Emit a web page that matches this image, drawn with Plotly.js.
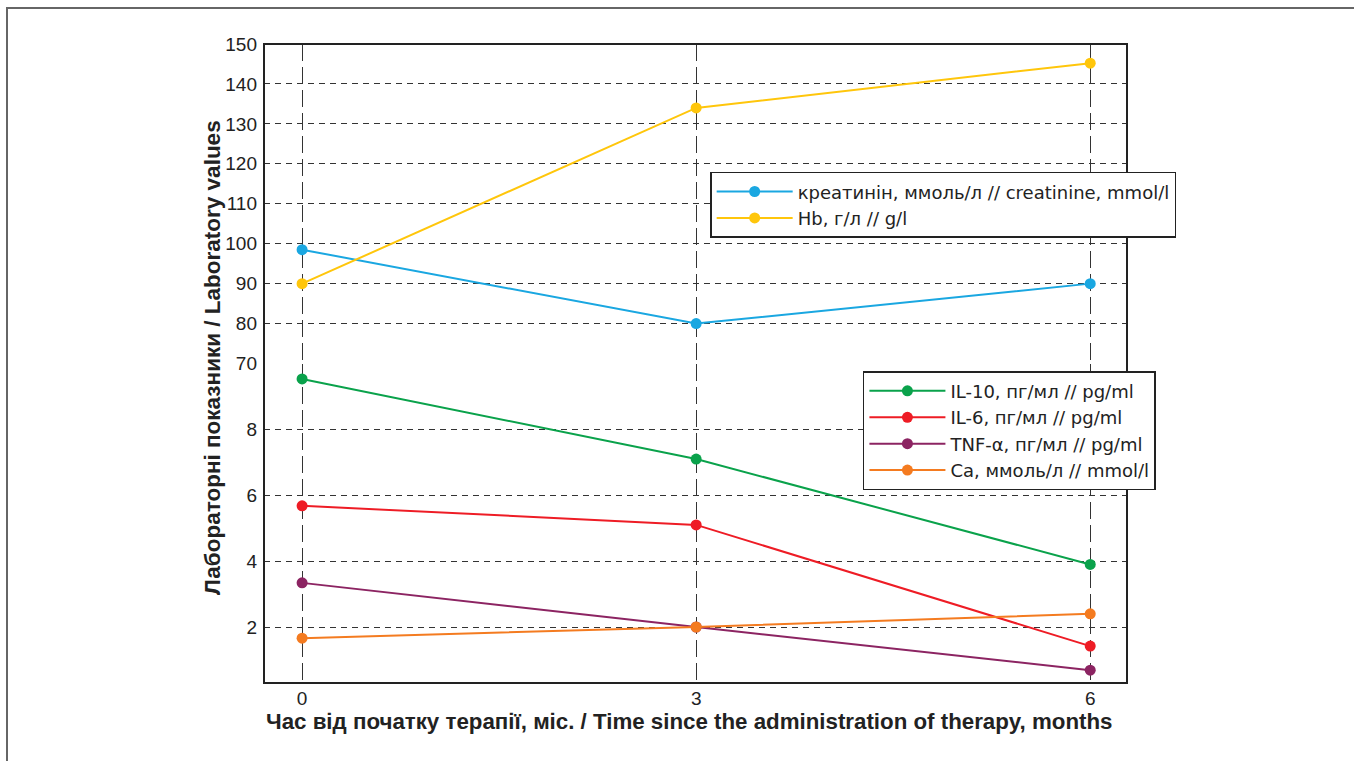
<!DOCTYPE html>
<html>
<head>
<meta charset="utf-8">
<script src="https://cdn.plot.ly/plotly-3.0.1.min.js"></script>
<style>
  html, body { margin: 0; padding: 0; background: #fff; }
  #chart { width: 1354px; height: 761px; }
  #frame { position: absolute; left: 6px; top: 7px; width: 1360px; height: 800px;
           border-left: 2px solid #666; border-top: 2px solid #666; pointer-events: none; }
</style>
</head>
<body>
<div id="chart"></div>
<div id="frame"></div>
<script>
// ---- data ----
const months = [0, 3, 6];
const xTickVals = [0, 3, 6];

const creatinine = [98.5, 80, 90];
const hb = [90, 134, 145.2];

const il10 = [9.53, 7.1, 3.9];
const il6 = [5.68, 5.1, 1.42];
const tnfAlpha = [3.34, 2.0, 0.69];
const ca = [1.66, 2.0, 2.4];

const upperTicks = [70, 80, 90, 100, 110, 120, 130, 140, 150];
const lowerTicks = [2, 4, 6, 8];

const names = {
  creatinine: 'креатинін, ммоль/л // creatinine, mmol/l',
  hb: 'Hb, г/л // g/l',
  il10: 'IL-10, пг/мл // pg/ml',
  il6: 'IL-6, пг/мл // pg/ml',
  tnf: 'TNF-α, пг/мл // pg/ml',
  ca: 'Ca, ммоль/л // mmol/l'
};
const xTitle = 'Час від початку терапії, міс. / Time since the administration of therapy, months';
const yTitle = 'Лабораторні показники / Laboratory values';

// ---- traces ----
function tr(x, y, name, color, yaxis, legend) {
  return {
    x: x, y: y, name: name, type: 'scatter', mode: 'lines+markers',
    xaxis: 'x', yaxis: yaxis, legend: legend,
    line: { color: color, width: 2 },
    marker: { color: color, size: 11 },
    cliponaxis: false
  };
}
const data = [
  tr(months, creatinine, names.creatinine, '#1aa7e1', 'y2', 'legend'),
  tr(months, hb, names.hb, '#ffc60b', 'y2', 'legend'),
  tr(months, il10, names.il10, '#0aa24b', 'y', 'legend2'),
  tr(months, il6, names.il6, '#ee1c25', 'y', 'legend2'),
  tr(months, tnfAlpha, names.tnf, '#8c2462', 'y', 'legend2'),
  tr(months, ca, names.ca, '#f47b20', 'y', 'legend2')
];

const tickFont = { family: 'Liberation Sans, Arial, sans-serif', size: 19, color: '#222' };
const legFont = { family: 'DejaVu Sans, sans-serif', size: 18, color: '#222' };
const gridCommon = { showgrid: true, gridcolor: '#333', gridwidth: 1, zeroline: false, showline: false, ticks: '' };

const layout = {
  width: 1354, height: 761,
  margin: { l: 264, r: 227, t: 44, b: 78 },
  paper_bgcolor: '#fff', plot_bgcolor: '#fff',
  showlegend: true,
  xaxis: Object.assign({}, gridCommon, {
    range: [-0.29, 6.28], tickvals: xTickVals, ticktext: xTickVals.map(String),
    tickfont: tickFont, griddash: '17px,6px', anchor: 'y', ticklabelstandoff: 2
  }),
  yaxis: Object.assign({}, gridCommon, {
    domain: [0, 0.5], range: [0.3, 10], tickvals: lowerTicks, ticktext: lowerTicks.map(String),
    tickfont: tickFont, griddash: '6px,5px', anchor: 'x', ticklabelstandoff: 6
  }),
  yaxis2: Object.assign({}, gridCommon, {
    domain: [0.5, 1], range: [70, 150], tickvals: upperTicks, ticktext: upperTicks.map(String),
    tickfont: tickFont, griddash: '6px,5px', anchor: 'x', ticklabelstandoff: 6
  }),
  legend: {
    x: 0.517, y: 0.80, xanchor: 'left', yanchor: 'top', itemwidth: 76,
    bgcolor: '#fff', bordercolor: '#222', borderwidth: 1.5, font: legFont
  },
  legend2: {
    x: 0.694, y: 0.488, xanchor: 'left', yanchor: 'top', itemwidth: 76,
    bgcolor: '#fff', bordercolor: '#222', borderwidth: 1.5, font: legFont
  },
  shapes: [
    { type: 'rect', xref: 'paper', yref: 'paper', x0: 0, x1: 1, y0: 0, y1: 1,
      line: { color: '#222', width: 2 }, layer: 'above' }
  ],
  annotations: [
    { text: '<b>' + yTitle + '</b>', xref: 'paper', yref: 'paper', x: -0.0603, y: 0.51,
      xanchor: 'center', yanchor: 'middle', textangle: -90, showarrow: false,
      font: { family: 'Liberation Sans, Arial, sans-serif', size: 22.5, color: '#222' } },
    { text: '<b>' + xTitle + '</b>', xref: 'paper', yref: 'paper', x: 0.4925, y: -0.061,
      xanchor: 'center', yanchor: 'middle', showarrow: false,
      font: { family: 'Liberation Sans, Arial, sans-serif', size: 22.3, color: '#222' } }
  ]
};

Plotly.newPlot('chart', data, layout, { displayModeBar: false, staticPlot: true });
</script>
</body>
</html>
